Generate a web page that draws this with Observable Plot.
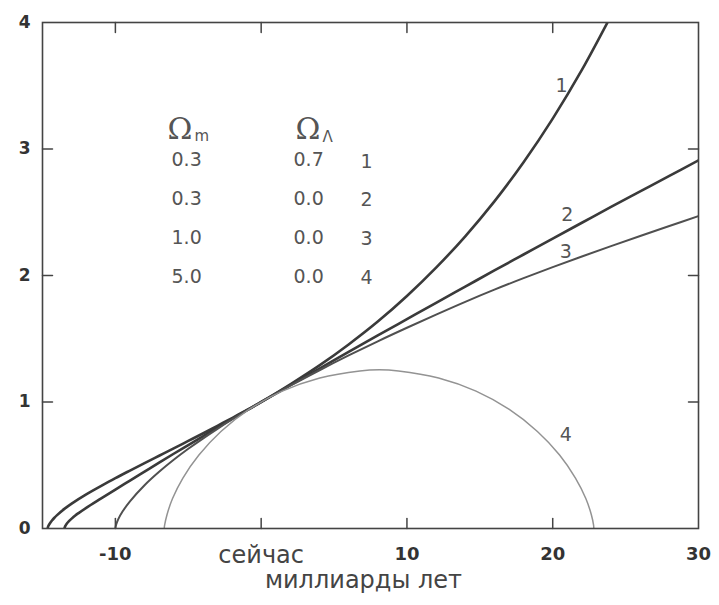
<!DOCTYPE html>
<html><head><meta charset="utf-8">
<script src="https://cdn.jsdelivr.net/npm/d3@7"></script>
<script src="https://cdn.jsdelivr.net/npm/@observablehq/plot@0.6"></script>
<style>
body{margin:0;background:#fff;}
svg{background:#fff;}
</style></head><body><div id="chart"></div>
<script>
// --- data (time in billions of years from now, scale factor a) ---
const curve1T = [-14.65,-14.6,-14.5,-14.35,-14.2,-14,-13.5,-13,-12,-11,-10,-9,-8,-7,-6,-5,-4,-3,-2,-1,0,1,2,4,6,8,10,12,14,16,18,20,22,24];
const curve1A = [0,0.019,0.04,0.063,0.083,0.106,0.155,0.197,0.27,0.335,0.398,0.458,0.517,0.575,0.633,0.692,0.751,0.812,0.873,0.935,1,1.068,1.139,1.289,1.455,1.636,1.838,2.062,2.31,2.586,2.895,3.24,3.625,4.054];

const curve2T = [-13.5,-13.45,-13.4,-13.3,-13.2,-13,-12.75,-12.5,-12,-11,-10,-9,-8,-7,-6,-5,-4,-3,-2,-1,0,2,4,6,8,10,12,14,16,18,20,22,24,26,28,30];
const curve2A = [0,0.017,0.027,0.043,0.056,0.078,0.103,0.124,0.163,0.236,0.308,0.379,0.45,0.521,0.591,0.66,0.729,0.798,0.866,0.933,1,1.133,1.264,1.396,1.526,1.655,1.784,1.912,2.04,2.166,2.292,2.417,2.542,2.665,2.788,2.91];

const curve3T = [-10,-9.95,-9.8,-9.5,-9,-8,-7,-6,-5,-4,-3,-2,-1,0,2,4,6,8,10,12,14,16,18,20,22,24,26,28,30];
const curve3A = [0,0.03,0.074,0.136,0.215,0.342,0.448,0.543,0.63,0.711,0.788,0.862,0.932,1,1.129,1.251,1.368,1.48,1.587,1.691,1.792,1.888,1.979,2.066,2.15,2.232,2.312,2.391,2.47];

const curve4T = [-6.65,-6.62,-6.46,-6.08,-5.37,-4.27,-2.76,-0.83,1.45,4.02,6.77,8.1,9.42,12.17,14.74,17.02,18.95,20.47,21.56,22.27,22.65,22.8,22.82];
const curve4A = [0,0.028,0.109,0.237,0.399,0.581,0.767,0.941,1.086,1.19,1.246,1.255,1.246,1.19,1.086,0.941,0.767,0.581,0.399,0.237,0.109,0.028,0];

const omegaM = ["0.3","0.3","1.0","5.0"];
const omegaL = ["0.7","0.0","0.0","0.0"];
const curveIds = ["1","2","3","4"];
const curveLabelT = [20.6, 21.0, 20.9, 20.9];
const curveLabelA = [3.5, 2.48, 2.19, 0.743];

const xTickValues = [-10, 10, 20, 30];
const nowTick = [0];
const nowLabel = "сейчас";
const yTickValues = [0, 1, 2, 3, 4];
const xInnerTicks = [-10, 0, 10, 20];
const yInnerTicks = [1, 2, 3];
const xAxisTitle = "миллиарды лет";

// --- build ---
const curves = [
  {t: curve1T, a: curve1A, stroke: "#3a3a3a", w: 2.6},
  {t: curve2T, a: curve2A, stroke: "#3a3a3a", w: 2.6},
  {t: curve3T, a: curve3A, stroke: "#505050", w: 2.0},
  {t: curve4T, a: curve4A, stroke: "#939393", w: 1.5}
];
const tickShape = {draw(ctx, l) { ctx.moveTo(0, 0); ctx.lineTo(0, -l); }};
const tickStyle = {shape: tickShape, length: 10, anchor: "start", stroke: "#444", strokeWidth: 1.5};
const legendColor = "#555";

const marks = [];
curves.forEach(c => {
  const pts = c.t.map((t, i) => ({t, a: c.a[i]}));
  marks.push(Plot.line(pts, {x: "t", y: "a", stroke: c.stroke, strokeWidth: c.w, curve: "catmull-rom", clip: true}));
});
marks.push(Plot.frame({stroke: "#444", strokeWidth: 1.6}));
marks.push(Plot.vector(xInnerTicks, {x: d => d, frameAnchor: "bottom", rotate: 0, ...tickStyle}));
marks.push(Plot.vector(xInnerTicks, {x: d => d, frameAnchor: "top", rotate: 180, ...tickStyle}));
marks.push(Plot.vector(yInnerTicks, {y: d => d, frameAnchor: "left", rotate: 90, ...tickStyle}));
marks.push(Plot.vector(yInnerTicks, {y: d => d, frameAnchor: "right", rotate: -90, ...tickStyle}));

marks.push(Plot.axisY({ticks: yTickValues, tickSize: 0, tickPadding: 12, fontSize: 17, fontWeight: "bold", color: "#333", label: null, tickFormat: d => String(d)}));
marks.push(Plot.axisX({ticks: xTickValues, tickSize: 0, tickPadding: 19, fontSize: 18, fontWeight: "bold", color: "#333", label: null, tickFormat: d => String(d)}));
marks.push(Plot.axisX({ticks: nowTick, tickSize: 0, tickPadding: 17, fontSize: 24, color: "#444", tickFormat: () => nowLabel, label: null}));
marks.push(Plot.text([xAxisTitle], {frameAnchor: "bottom", text: d => d, dx: -7, dy: 59, lineAnchor: "bottom", fontSize: 24, fill: "#444"}));

// legend header
marks.push(Plot.text(["Ω"], {text: d => d, frameAnchor: "top-left", dx: 125, dy: 116, lineAnchor: "bottom", textAnchor: "start", fontSize: 30, fontFamily: "DejaVu Serif", fill: legendColor}));
marks.push(Plot.text(["m"], {text: d => d, frameAnchor: "top-left", dx: 152, dy: 118, lineAnchor: "bottom", textAnchor: "start", fontSize: 15, fill: legendColor}));
marks.push(Plot.text(["Ω"], {text: d => d, frameAnchor: "top-left", dx: 253, dy: 116, lineAnchor: "bottom", textAnchor: "start", fontSize: 30, fontFamily: "DejaVu Serif", fill: legendColor}));
marks.push(Plot.text(["Λ"], {text: d => d, frameAnchor: "top-left", dx: 280, dy: 119, lineAnchor: "bottom", textAnchor: "start", fontSize: 15, fill: legendColor}));
// legend rows
omegaM.forEach((v, i) => {
  marks.push(Plot.text([v], {text: d => d, frameAnchor: "top-left", dx: 129, dy: 143 + i * 39, lineAnchor: "bottom", textAnchor: "start", fontSize: 19, fill: legendColor}));
  marks.push(Plot.text([omegaL[i]], {text: d => d, frameAnchor: "top-left", dx: 251, dy: 143 + i * 39, lineAnchor: "bottom", textAnchor: "start", fontSize: 19, fill: legendColor}));
  marks.push(Plot.text([curveIds[i]], {text: d => d, frameAnchor: "top-left", dx: 318, dy: 145 + i * 38.7, lineAnchor: "bottom", textAnchor: "start", fontSize: 19, fill: legendColor}));
});
// curve labels
marks.push(Plot.text(curveIds, {x: (d, i) => curveLabelT[i], y: (d, i) => curveLabelA[i], text: d => d, fontSize: 19, fill: legendColor, lineAnchor: "middle", textAnchor: "middle"}));

const chart = Plot.plot({
  width: 719, height: 605,
  marginLeft: 42, marginRight: 21, marginTop: 22, marginBottom: 77,
  x: {domain: [-15, 30]},
  y: {domain: [0, 4]},
  style: {fontFamily: "DejaVu Sans", background: "#fff"},
  marks
});
document.getElementById("chart").appendChild(chart);
</script></body></html>
